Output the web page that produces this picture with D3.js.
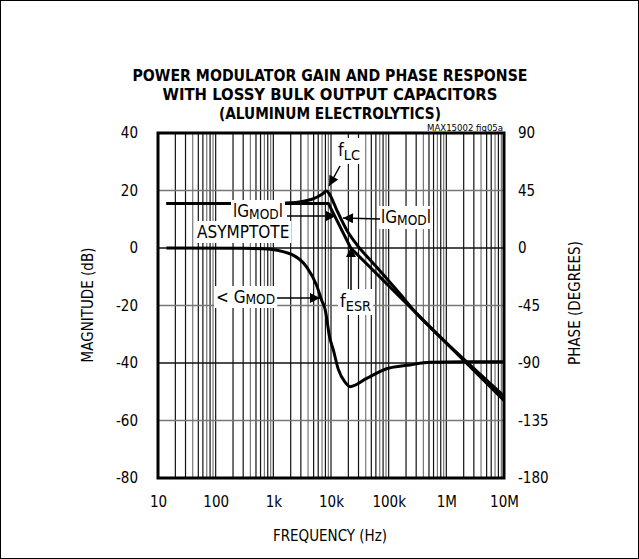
<!DOCTYPE html>
<html>
<head>
<meta charset="utf-8">
<script src="https://cdn.jsdelivr.net/npm/d3@7"></script>
<style>
  body { margin: 0; background: #fff; }
  svg text { font-family: "Liberation Sans Narrow", "DejaVu Sans Condensed", "Arial Narrow", sans-serif; }
</style>
</head>
<body>
<svg id="chart"></svg>
<script>
// values
const freqTicks = [10, 100, 1e3, 1e4, 1e5, 1e6, 1e7];
const freqLabels = ["10", "100", "1k", "10k", "100k", "1M", "10M"];
const magTicks = [40, 20, 0, -20, -40, -60, -80];
const phaseTicks = [90, 45, 0, -45, -90, -135, -180];

// |GMOD| asymptote (Hz, dB)
const asymFreq = [14, 9000, 22000, 1e7];
const asymMag  = [15.5, 15.5, 0, -53];

// |GMOD| (Hz, dB)
const magFreq = [14, 1000, 2000, 3000, 4000, 5000, 6000, 7000, 8400, 9500, 12600, 18700, 28000, 47000, 71000, 150000, 306000, 1e6, 2.25e6, 1e7];
const magVal  = [15.5, 15.5, 15.7, 16.1, 16.6, 17.2, 17.9, 18.7, 19.8, 18.6, 13.2, 6.3, 1.2, -4.0, -8.0, -15.5, -22.8, -33, -39.6, -51.5];

// < GMOD (Hz, degrees)
const phFreq = [14, 300, 670, 1950, 3800, 5600, 6900, 7900, 9500, 11000, 13400, 17500, 21400, 41600, 92000, 234000, 520000, 2e6, 1e7];
const phVal  = [0, -0.2, -0.5, -4.5, -15, -29, -41, -48, -70, -80, -95, -105, -108.5, -102, -94.5, -91.5, -89.5, -89, -89];

const W = 639, H = 559;
const mLeft = 158, mRight = 504, mTop = 133, mBottom = 478;

const svg = d3.select('#chart').attr('width', W).attr('height', H);

svg.append('rect')
    .attr('x', 0.5).attr('y', 0.5)
    .attr('width', W - 1).attr('height', H - 1)
    .attr('fill', 'white').attr('stroke', 'black');

const x = d3.scaleLog().domain([10, 1e7]).range([mLeft, mRight]);
const yMag = d3.scaleLinear().domain([-80, 40]).range([mBottom, mTop]);
const yPh = d3.scaleLinear().domain([-180, 90]).range([mBottom, mTop]);

// grid
const grid = svg.append('g');
const minor = [];
for (let d = 10; d < 1e7; d *= 10) {
    for (let m = 1; m <= 9; m++) minor.push({ f: d * m, m: m });
}
grid.selectAll('line.v')
    .data(minor.filter(d => d.f > 10))
    .enter()
    .append('line')
    .attr('x1', d => x(d.f)).attr('x2', d => x(d.f))
    .attr('y1', mTop).attr('y2', mBottom)
    .attr('stroke', d => (d.m === 4 || d.m === 7 || d.m === 9) ? '#777' : '#111')
    .attr('stroke-width', 1.2);

grid.selectAll('line.h')
    .data(magTicks.slice(1, -1))
    .enter()
    .append('line')
    .attr('x1', mLeft).attr('x2', mRight)
    .attr('y1', d => yMag(d)).attr('y2', d => yMag(d))
    .attr('stroke', d => (d === 0 || d === -40) ? '#111' : '#777')
    .attr('stroke-width', 1.4);

// curves
const lineMag = d3.line().x(d => x(d[0])).y(d => yMag(d[1])).curve(d3.curveMonotoneX);
const linePh = d3.line().x(d => x(d[0])).y(d => yPh(d[1])).curve(d3.curveMonotoneX);

const curves = svg.append('g').attr('fill', 'none').attr('stroke', 'black')
    .attr('stroke-width', 3).attr('stroke-linejoin', 'round');
curves.append('path').attr('d', d3.line().x(d => x(d[0])).y(d => yMag(d[1]))(d3.zip(asymFreq, asymMag)));
curves.append('path').attr('d', lineMag(d3.zip(magFreq, magVal)));
curves.append('path').attr('d', linePh(d3.zip(phFreq, phVal)));

// frame
svg.append('rect')
    .attr('x', mLeft).attr('y', mTop)
    .attr('width', mRight - mLeft).attr('height', mBottom - mTop)
    .attr('fill', 'none').attr('stroke', 'black').attr('stroke-width', 3);

// axes
const axisFont = g => g.call(g => g.select('.domain').remove())
    .selectAll('text').attr('font-size', 15).attr('fill', 'black')
    .style('font-family', '"Liberation Sans Narrow", "DejaVu Sans Condensed", sans-serif');

svg.append('g').attr('transform', `translate(${mLeft},0)`)
    .call(d3.axisLeft(yMag).tickValues(magTicks).tickSize(0).tickPadding(20).tickFormat(d => d))
    .call(axisFont);
svg.append('g').attr('transform', `translate(${mRight},0)`)
    .call(d3.axisRight(yPh).tickValues(phaseTicks).tickSize(0).tickPadding(14).tickFormat(d => d))
    .call(axisFont);
svg.append('g').attr('transform', `translate(0,${mBottom})`)
    .call(d3.axisBottom(x).tickValues(freqTicks).tickSize(0).tickPadding(18).tickFormat((d, i) => freqLabels[i]))
    .call(axisFont);

// titles
const titles = ["POWER MODULATOR GAIN AND PHASE RESPONSE", "WITH LOSSY BULK OUTPUT CAPACITORS", "(ALUMINUM ELECTROLYTICS)"];
const titleW = [395, 335, 222];
svg.selectAll('text.title')
    .data(titles)
    .enter()
    .append('text')
    .attr('x', 330).attr('y', (d, i) => 81 + i * 19)
    .attr('text-anchor', 'middle')
    .attr('font-size', 16).attr('font-weight', 'bold')
    .attr('textLength', (d, i) => titleW[i]).attr('lengthAdjust', 'spacingAndGlyphs')
    .text(d => d);

svg.append('text').attr('x', 330).attr('y', 541).attr('text-anchor', 'middle')
    .attr('font-size', 15).text('FREQUENCY (Hz)');
svg.append('text').attr('transform', 'translate(93,305) rotate(-90)').attr('text-anchor', 'middle')
    .attr('font-size', 15).text('MAGNITUDE (dB)');
svg.append('text').attr('transform', 'translate(580,303) rotate(-90)').attr('text-anchor', 'middle')
    .attr('font-size', 15).text('PHASE (DEGREES)');
svg.append('text').attr('x', 503).attr('y', 130.5).attr('text-anchor', 'end')
    .attr('font-size', 9.5).text('MAX15002 fig05a');

// annotations
const ann = svg.append('g');
svg.append('defs').append('marker')
    .attr('id', 'ah').attr('viewBox', '0 0 10 10').attr('refX', 10).attr('refY', 5)
    .attr('markerWidth', 12).attr('markerHeight', 10).attr('markerUnits', 'userSpaceOnUse')
    .attr('orient', 'auto')
    .append('path').attr('d', 'M0,0L10,5L0,10Z').attr('fill', 'black');

function arrow(x1, y1, x2, y2) {
    ann.append('line').attr('x1', x1).attr('y1', y1).attr('x2', x2).attr('y2', y2)
        .attr('stroke', 'black').attr('stroke-width', 1.5).attr('marker-end', 'url(#ah)');
}

function label(xp, yp, parts, size) {
    const g = ann.append('g');
    const bg = g.append('rect').attr('fill', 'white');
    const t = g.append('text').attr('x', xp).attr('y', yp).attr('font-size', size);
    parts.forEach(p => {
        t.append('tspan').attr('font-size', p.sub ? size * 0.8 : size)
            .attr('dy', p.dy || 0).text(p.t);
    });
    const b = t.node().getBBox();
    bg.attr('x', b.x - 2).attr('y', b.y - 1).attr('width', b.width + 4).attr('height', b.height + 2);
    return g;
}

label(338, 156, [{t: 'f'}, {t: 'LC', sub: true, dy: 4}], 18);
arrow(340, 166, 329, 186);

label(233, 217, [{t: 'lG'}, {t: 'MOD', sub: true, dy: 2}, {t: 'l', dy: -2}], 17);
label(197, 238, [{t: 'ASYMPTOTE'}], 17);
arrow(287, 216, 336, 216);

label(381, 223, [{t: 'lG'}, {t: 'MOD', sub: true, dy: 2}, {t: 'l', dy: -2}], 17);
arrow(380, 219, 343, 218);

label(216, 303, [{t: '< G'}, {t: 'MOD', sub: true, dy: 1}], 17);
arrow(277, 298, 320, 298);

label(340, 307, [{t: 'f'}, {t: 'ESR', sub: true, dy: 4}], 18);
arrow(351, 290, 351, 247);
</script>
</body>
</html>
